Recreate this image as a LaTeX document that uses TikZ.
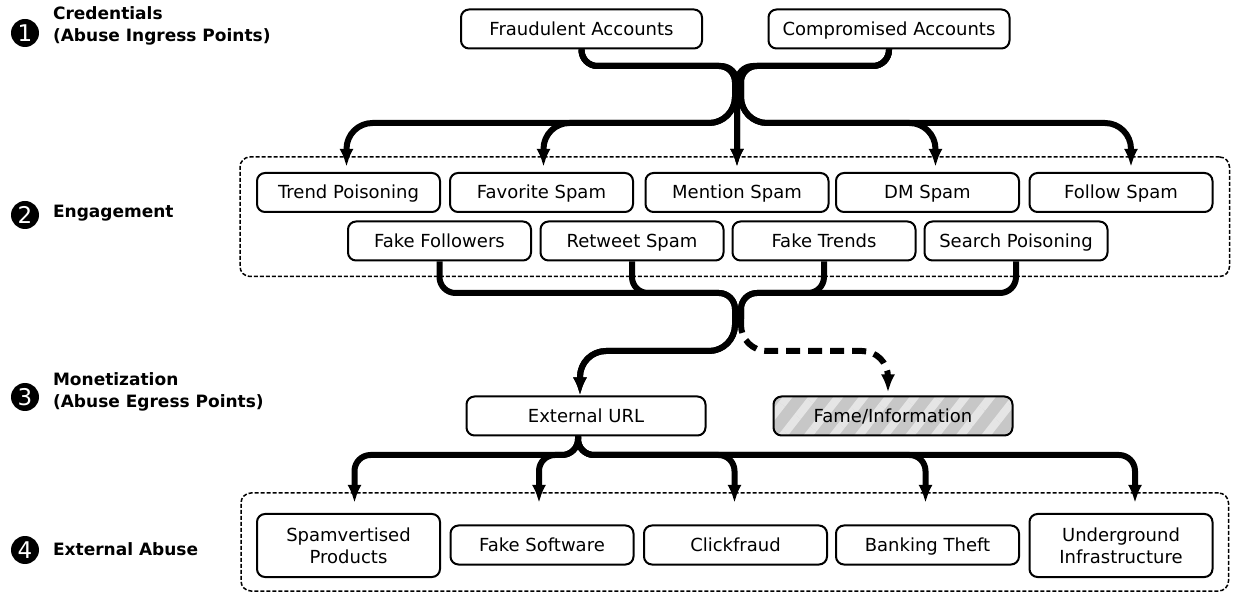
\documentclass[tikz,border=0pt]{standalone}
\usepackage{fontspec}
\setmainfont{DejaVu Sans}
\usepackage{tikz}
\usetikzlibrary{positioning}
\usetikzlibrary{fit}
\usetikzlibrary{calc}
\usetikzlibrary{arrows.meta}
\usetikzlibrary{patterns.meta}
\usepackage{xcolor}

\begin{document}
\begin{tikzpicture}[x=0.5pt, y=-0.5pt,
		box/.style={draw=black, line width=1pt, rounded corners=4pt, minimum width=91.5pt, minimum height=19.5pt, inner sep=2pt, text height=7.5pt, text depth=1pt, align=center, font=\fontsize{9}{11}\selectfont},
		tallbox/.style={box, minimum height=31.5pt, text height=, text depth=},
		group/.style={draw=black, line width=0.75pt, dash pattern=on 2pt off 1pt, rounded corners=5pt},
		flow/.style={line width=3pt, rounded corners=8pt},
		tip/.style={-{Latex[length=9pt,width=7pt]}},
		num/.style={circle, fill=black, text=white, inner sep=0pt, minimum size=14pt, font=\fontsize{11.5}{11.5}\selectfont},
		stage/.style={anchor=west, align=left, font=\bfseries\fontsize{8.5}{11}\selectfont}]
				    		\useasboundingbox (0,0) rectangle (1233,593);
				    		\node[num] (num1) at (25,33) {1};
				    		\node[stage] (stage1) at (46,26) {Credentials\\(Abuse Ingress Points)};
				    		\node[num] (num2) at (25,215) {2};
				    		\node[stage] (stage2) at (46,213) {Engagement};
				    		\node[num] (num3) at (25,397) {3};
				    		\node[num] (num4) at (25,550) {4};
				    		\node[stage] (stage3) at (46,392) {Monetization\\(Abuse Egress Points)};
				    		\node[stage] (stage4) at (46,549) {External Abuse};
				    		\node[box, minimum width=120.5pt] (fraud) at (581.5,29) {Fraudulent Accounts};
				    		\node[box, minimum width=120.5pt] (comp) at (889,29) {Compromised Accounts};
				    		\node[box] (trend) at (348.5,192.5) {Trend Poisoning};
				    		\node[box] (fav) at (541.5,192.5) {Favorite Spam};
				    		\node[box] (mention) at (737,192.5) {Mention Spam};
				    		\node[box] (dm) at (927.5,192.5) {DM Spam};
				    		\node[box] (follow) at (1121,192.5) {Follow Spam};
				    		\node[box] (fakefol) at (439.5,241) {Fake Followers};
				    		\node[box] (retweet) at (632,241) {Retweet Spam};
				    		\node[box] (faketr) at (824,241) {Fake Trends};
				    		\node[box] (search) at (1016,241) {Search Poisoning};
				    		\node[group, inner xsep=8pt, inner ysep=7.5pt, fit=(trend)(follow)(fakefol)] (engage) {};
				    		\node[box, minimum width=119.5pt] (url) at (586,416) {External URL};
				    		\node[box, minimum width=119.5pt, preaction={fill=black!22}, pattern={Lines[angle=52,distance=10pt,line width=4pt]}, pattern color=black!10] (fame) at (893,416) {Fame/Information};
				    		\node[tallbox] (spamv) at (348.5,545.5) {Spamvertised\\Products};
				    		\node[box] (fakesw) at (542,545) {Fake Software};
				    		\node[box] (click) at (735.5,545) {Clickfraud};
				    		\node[box] (bank) at (927.5,545) {Banking Theft};
				    		\node[tallbox] (under) at (1121,545.5) {Underground\\Infrastructure};
				    		\node[group, inner xsep=7.5pt, inner ysep=8.25pt, yshift=1.75pt, fit=(spamv)(under)] (abuse) {};
				    		\coordinate (top-l) at (735,66);
				    		\coordinate (top-lb) at (735,123);
				    		\coordinate (top-r) at (741,66);
				    		\coordinate (top-rb) at (741,123);
				    		\coordinate (top-in) at (737,66);
				    		\coordinate (top-end) at (0,167);
				    		\coordinate (mid-l) at (735,293);
				    		\coordinate (mid-lb) at (735,351);
				    		\coordinate (mid-r) at (741,293);
				    		\coordinate (mid-rc) at (741,319);
				    		\coordinate (mid-rb) at (741,351);
				    		\coordinate (bot-split) at (578,455);
				    		\coordinate (bot-end) at (0,503);
				    		\foreach \n/\dx in {trend/-2, fav/2}
				    			\draw[flow, tip] (fraud.south) |- (top-l) [rounded corners=13pt] -- (top-lb) -| ($(\n |- top-end)+(\dx,0)$);
				    		\foreach \n/\dx in {dm/8, follow/10}
				    			\draw[flow, tip] (comp.south) |- (top-r) [rounded corners=13pt] -- (top-rb) -| ($(\n |- top-end)+(\dx,0)$);
				    		\draw[flow, tip] (fraud.south) |- (top-in) [rounded corners=13pt] -- (mention |- top-end);
				    		\draw[flow, tip] (comp.south) |- (top-in) [rounded corners=13pt] -- (mention |- top-end);
				    		\foreach \n in {fakefol, retweet}
				    			\draw[flow, tip] (\n.south) |- (mid-l) [rounded corners=13pt] -- (mid-lb) -| ($(url.north)+(-6,0)$);
				    		\foreach \n in {faketr, search}
				    			\draw[flow] (\n.south) |- (mid-r) [rounded corners=13pt] -- (mid-rc);
				    		\draw[flow, tip, rounded corners=13pt, dash pattern=on 7pt off 4pt] (mid-rc) -- (mid-rb) -| ($(fame.north)+(-5,0)$);
				    		\foreach \n/\dx in {spamv/6, fakesw/-3, click/-1, bank/-2, under/14}
				    			\draw[flow, tip] (url.south -| bot-split) -- (bot-split) -- (bot-split -| {$(\n)+(\dx,0)$}) [rounded corners=13pt] -- ($(\n |- bot-end)+(\dx,0)$);
				    	\end{tikzpicture}
\end{document}
